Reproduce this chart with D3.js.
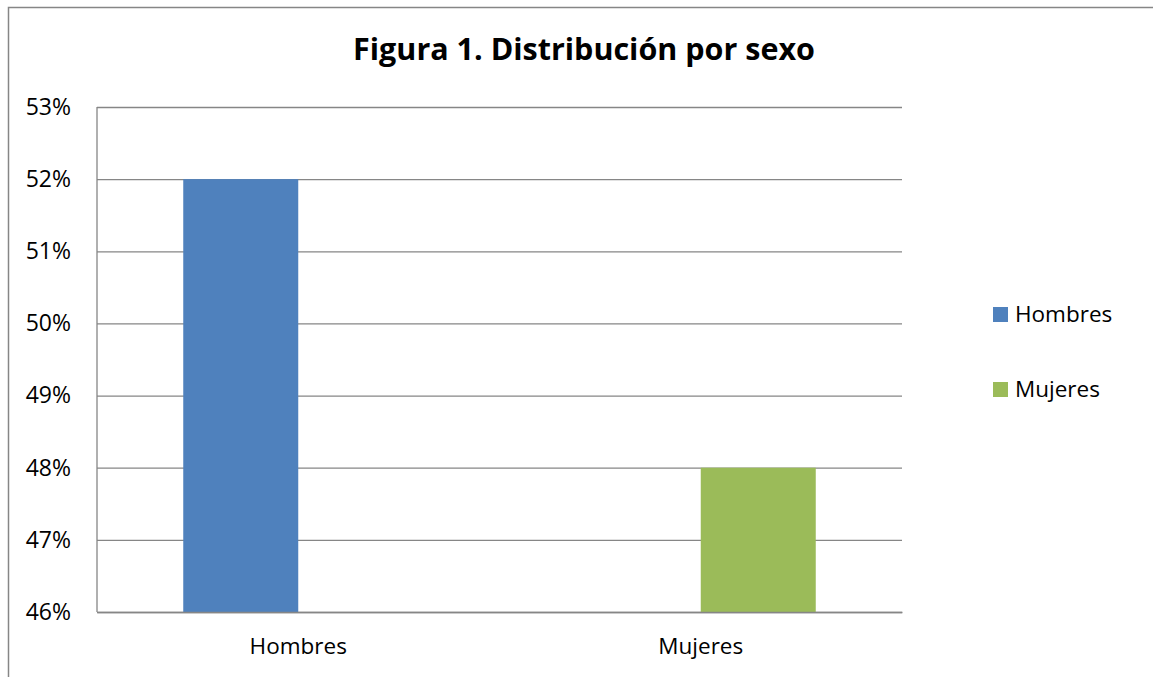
<!DOCTYPE html>
<html>
<head>
<meta charset="utf-8">
<script src="https://cdn.jsdelivr.net/npm/d3@7"></script>
<style>
  body { margin: 0; background: #fff; }
  svg text { font-family: "Open Sans", sans-serif; fill: #000; }
</style>
</head>
<body>
<div id="chart"></div>
<script>
const width = 1153;
const height = 677;

// datos
const categories = ["Hombres", "Mujeres"];
const seriesNames = ["Hombres", "Mujeres"];
const hombresValues = [52, null];
const mujeresValues = [null, 48];
const yTicks = [46, 47, 48, 49, 50, 51, 52, 53];
const colors = ["#4F81BD", "#9BBB59"];

const margin = { top: 107, left: 97, right: 902, bottom: 612 };

const svg = d3.select("#chart")
  .append("svg")
  .attr("width", width)
  .attr("height", height);

// borde del gráfico (solo arriba e izquierda visibles)
svg.append("path")
  .attr("d", `M8.5,${height} V7.5 H${width}`)
  .attr("fill", "none")
  .attr("stroke", "#868686")
  .attr("stroke-width", 1.5);

// título
svg.append("text")
  .attr("x", 584)
  .attr("y", 60)
  .attr("text-anchor", "middle")
  .style("font-size", "30.5px")
  .style("font-weight", "bold")
  .text("Figura 1. Distribución por sexo");

// escalas
const x = d3.scaleBand()
  .domain(categories)
  .range([margin.left, margin.right]);

const x1 = d3.scaleBand()
  .domain(seriesNames)
  .range([0, x.bandwidth()])
  .paddingOuter(0.75);

const y = d3.scaleLinear()
  .domain([46, 53])
  .range([margin.bottom, margin.top]);

// cuadrícula + eje Y
const yAxis = svg.append("g")
  .attr("transform", `translate(${margin.left},0)`)
  .call(d3.axisLeft(y)
    .tickValues(yTicks)
    .tickSize(-(margin.right - margin.left))
    .tickPadding(26)
    .tickFormat(d => d + "%"));
yAxis.select(".domain").remove();
yAxis.selectAll(".tick line")
  .attr("stroke", "#868686")
  .attr("stroke-width", 1.3);
yAxis.selectAll(".tick text")
  .style("font-size", "23px");

// barras
const seriesData = [hombresValues, mujeresValues];
seriesData.forEach((vals, si) => {
  svg.append("g")
    .selectAll("rect")
    .data(categories.map((c, i) => ({ cat: c, value: vals[i] })).filter(d => d.value != null))
    .enter()
    .append("rect")
    .attr("x", d => x(d.cat) + x1(seriesNames[si]))
    .attr("y", d => y(d.value))
    .attr("width", x1.bandwidth())
    .attr("height", d => y(46) - y(d.value))
    .attr("fill", colors[si]);
});

// eje X
const xAxis = svg.append("g")
  .attr("transform", `translate(0,${margin.bottom})`)
  .call(d3.axisBottom(x).tickSize(0).tickPadding(26));
xAxis.select(".domain")
  .attr("stroke", "#868686")
  .attr("stroke-width", 1.3);
xAxis.selectAll(".tick text")
  .style("font-size", "22.5px");

// línea vertical del eje Y
svg.append("line")
  .attr("x1", margin.left).attr("x2", margin.left)
  .attr("y1", margin.top).attr("y2", margin.bottom)
  .attr("stroke", "#868686")
  .attr("stroke-width", 1.3);

// leyenda
const legend = svg.append("g")
  .selectAll("g")
  .data(seriesNames)
  .enter()
  .append("g")
  .attr("transform", (d, i) => `translate(993,${307 + i * 75})`);

legend.append("rect")
  .attr("width", 15)
  .attr("height", 15)
  .attr("fill", (d, i) => colors[i]);

legend.append("text")
  .attr("x", 22)
  .attr("y", 7.5)
  .attr("dy", "0.35em")
  .style("font-size", "22.5px")
  .text(d => d);
</script>
</body>
</html>
